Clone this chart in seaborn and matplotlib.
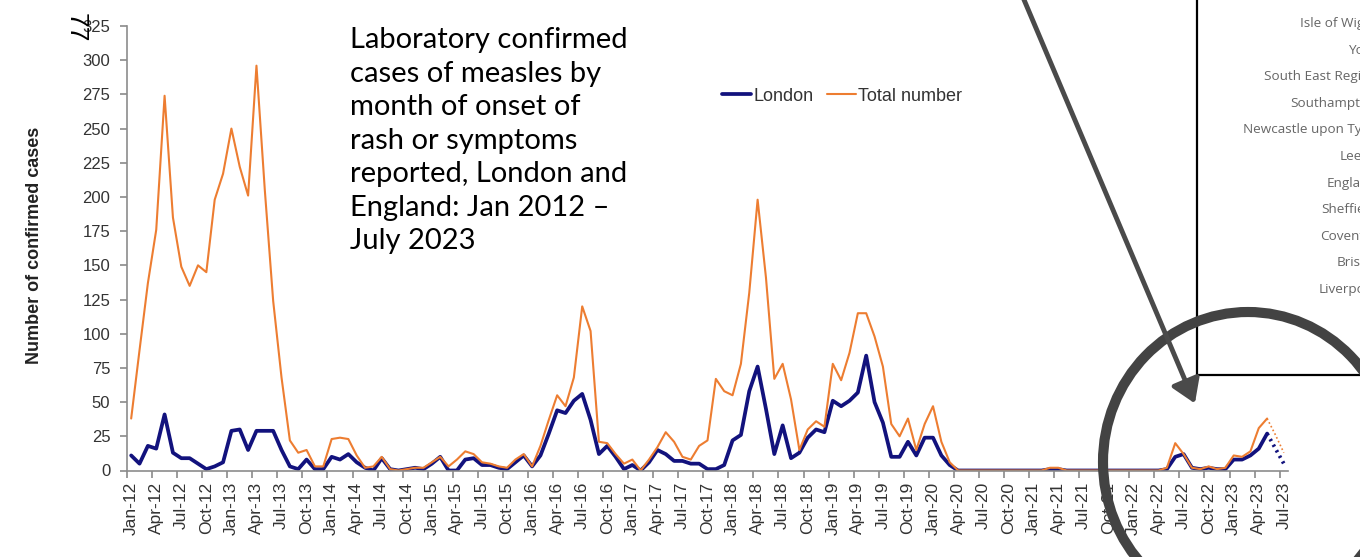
import numpy as np
import pandas as pd
import seaborn as sns
import matplotlib.pyplot as plt
from matplotlib.patches import Ellipse, Rectangle, FancyArrowPatch

# Casos confirmados por mês, Jan 2012 - Jul 2023
london_2012 = [11, 5, 18, 16, 41, 13, 9, 9, 5, 1, 3, 6]
london_2013 = [29, 30, 15, 29, 29, 29, 15, 3, 1, 8, 1, 1]
london_2014 = [10, 8, 12, 6, 2, 0, 9, 1, 0, 1, 2, 1]
london_2015 = [5, 10, 0, 0, 8, 9, 4, 4, 2, 1, 6, 11]
london_2016 = [3, 11, 27, 44, 42, 51, 56, 37, 12, 18, 10, 1]
london_2017 = [4, 0, 6, 15, 12, 7, 7, 5, 5, 1, 1, 4]
london_2018 = [22, 26, 58, 76, 45, 12, 33, 9, 13, 24, 30, 28]
london_2019 = [51, 47, 51, 57, 84, 50, 35, 10, 10, 21, 11, 24]
london_2020 = [24, 11, 4, 0, 0, 0, 0, 0, 0, 0, 0, 0]
london_2021 = [0, 0, 1, 1, 0, 0, 0, 0, 0, 0, 0, 0]
london_2022 = [0, 0, 0, 0, 1, 10, 12, 2, 1, 2, 1, 1]
london_2023 = [8, 8, 11, 16, 27, 16, 5]

total_2012 = [38, 88, 137, 176, 274, 185, 149, 135, 150, 145, 198, 217]
total_2013 = [250, 222, 201, 296, 205, 124, 68, 22, 13, 15, 3, 3]
total_2014 = [23, 24, 23, 11, 2, 3, 10, 1, 0, 1, 2, 2]
total_2015 = [6, 10, 3, 8, 14, 12, 6, 5, 3, 2, 8, 12]
total_2016 = [3, 18, 37, 55, 47, 68, 120, 102, 21, 20, 12, 5]
total_2017 = [8, 0, 8, 17, 28, 21, 10, 8, 18, 22, 67, 58]
total_2018 = [55, 78, 130, 198, 141, 67, 78, 52, 15, 30, 36, 32]
total_2019 = [78, 66, 86, 115, 115, 98, 76, 34, 25, 38, 15, 34]
total_2020 = [47, 21, 6, 0, 0, 0, 0, 0, 0, 0, 0, 0]
total_2021 = [0, 0, 2, 2, 0, 0, 0, 0, 0, 0, 0, 0]
total_2022 = [0, 0, 0, 0, 2, 20, 12, 2, 1, 3, 1, 2]
total_2023 = [11, 10, 14, 31, 38, 26, 13]

london = (london_2012 + london_2013 + london_2014 + london_2015 + london_2016 + london_2017
          + london_2018 + london_2019 + london_2020 + london_2021 + london_2022 + london_2023)
total = (total_2012 + total_2013 + total_2014 + total_2015 + total_2016 + total_2017
         + total_2018 + total_2019 + total_2020 + total_2021 + total_2022 + total_2023)

# Últimos meses são provisórios (linha pontilhada)
ultimo_final = 136

meses = pd.date_range('2012-01-01', periods=len(total), freq='MS')
rotulos = list(meses.strftime('%b-%y'))

df = pd.DataFrame({'mes': np.arange(len(total)), 'London': london, 'Total number': total})
df_final = df[df['mes'] <= ultimo_final]
df_prov = df[df['mes'] >= ultimo_final]

sns.set_theme(style='white')
plt.rcParams['font.family'] = ['Liberation Sans', 'DejaVu Sans']

W, H = 1360, 557
fig = plt.figure(figsize=(W / 100, H / 100), dpi=100)

def px(x, y):
    return (x / W, 1 - y / H)

ax = fig.add_axes([127 / W, 86.5 / H, 1161 / W, 444.5 / H])

azul = '#12127d'
laranja = '#ED7D31'

sns.lineplot(data=df_final, x='mes', y='London', color=azul, lw=2.7, ax=ax, label='London')
sns.lineplot(data=df_final, x='mes', y='Total number', color=laranja, lw=1.5, ax=ax, label='Total number')
sns.lineplot(data=df_prov, x='mes', y='London', color=azul, lw=2.7, ax=ax,
             linestyle=(0, (0.6, 1.1)), legend=False)
sns.lineplot(data=df_prov, x='mes', y='Total number', color=laranja, lw=1.2, ax=ax,
             linestyle=(0, (1, 1.5)), legend=False)

ax.set_xlim(-0.5, len(total) - 0.5)
ax.set_ylim(0, 325)
ax.set_yticks(range(0, 326, 25))
ax.set_xticks(range(0, len(total), 3))
ax.set_xticklabels(rotulos[::3], rotation=90)
ax.set_xticks(np.arange(-0.5, len(total), 3), minor=True)
ax.tick_params(axis='x', which='major', length=0, pad=8, labelsize=12.5, labelcolor='#333333')
ax.tick_params(axis='x', which='minor', length=5, width=1.1, color='#808080', direction='out', bottom=True)
ax.tick_params(axis='y', length=5, width=1.1, color='#808080', direction='out', left=True,
               pad=7, labelsize=12, labelcolor='#333333')
ax.set_xlabel('')
ax.set_ylabel('')
for lado in ['top', 'right']:
    ax.spines[lado].set_visible(False)
for lado in ['left', 'bottom']:
    ax.spines[lado].set_color('#8c8c8c')
    ax.spines[lado].set_linewidth(1.2)

fig.text(*px(35, 245), 'Number of confirmed cases', rotation=90, ha='center', va='center',
         fontsize=13, fontweight='bold', color='#222222')

ax.legend(loc='center left', bbox_to_anchor=px(706, 96), bbox_transform=fig.transFigure,
          ncol=2, frameon=False, fontsize=13, handlelength=1.6, handletextpad=0.15,
          columnspacing=0.7, labelcolor='#333333')

fig.text(*px(350, 27), 'Laboratory confirmed\ncases of measles by\nmonth of onset of\nrash or symptoms\n'
         'reported, London and\nEngland: Jan 2012 –\nJuly 2023',
         ha='left', va='top', fontsize=21, family=['Lato', 'DejaVu Sans'], linespacing=1.36,
         color='black')

# Rabisco no canto superior esquerdo
fig.text(*px(76, 28), '77', rotation=270, ha='center', va='center', fontsize=19, color='black')

# Recorte da tabela à direita
caixa = Rectangle(px(1197, 375), 200 / W, 400 / H, transform=fig.transFigure,
                  facecolor='white', edgecolor='black', lw=1.6, zorder=5)
fig.add_artist(caixa)
locais = ['Portsmouth', 'Isle of Wight', 'York', 'South East Region', 'Southampton',
          'Newcastle upon Tyne', 'Leeds', 'England', 'Sheffield', 'Coventry', 'Bristol', 'Liverpool']
for k, nome in enumerate(locais):
    fig.text(*px(1377, -3 + 26.6 * k), nome, ha='right', va='center', fontsize=9.7,
             family=['Open Sans', 'DejaVu Sans'], color='#666666', zorder=6)

# Círculo e seta de destaque
anel = Ellipse(px(1248, 462), 290 / W, 300 / H, transform=fig.transFigure,
               facecolor='none', edgecolor='#434343', lw=7.3, zorder=7)
fig.add_artist(anel)
seta = FancyArrowPatch(px(1022, -5), px(1196, 406), transform=fig.transFigure,
                       arrowstyle='-|>,head_length=0.7,head_width=0.45', mutation_scale=20,
                       color='#4a4a4a', lw=3.5, zorder=8)
fig.add_artist(seta)

plt.savefig('out.png', dpi=100)
